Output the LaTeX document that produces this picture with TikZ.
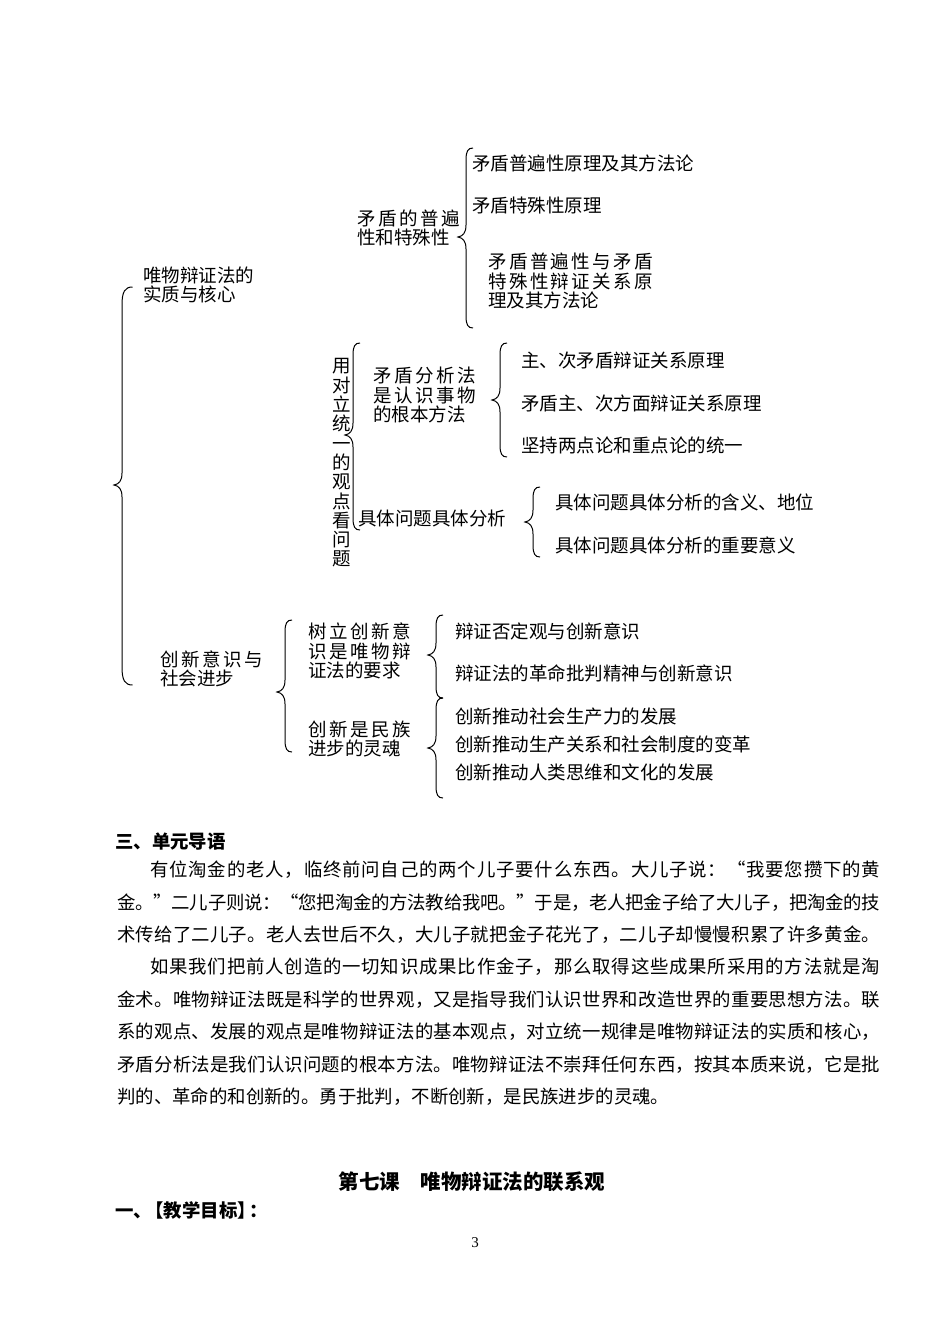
\documentclass[tikz,border=0pt]{standalone}
\usepackage{fontspec}
\setmainfont{Noto Sans CJK SC}
\newfontfamily\numfont{Liberation Serif}
\newcount\cjkc
\newcommand\cjkrange[2]{\cjkc=#1\relax\loop\XeTeXcharclass\cjkc=1\relax\advance\cjkc by 1\relax\ifnum\cjkc<#2\relax\repeat}
\cjkrange{"3000}{"A000}
\cjkrange{"FF00}{"FFF0}
\cjkrange{"2018}{"201E}
\XeTeXinterchartokenstate=1
\newcommand\cjkglue{\hskip0pt plus 3pt minus 1pt\relax}
\XeTeXinterchartoks 1 1 = {\cjkglue}
\newcommand\wbrace[5][1]{%
 \draw[brc] ({#2+7*#1},#3) .. controls ({#2+2*#1},#3) and (#2,{#3+3*#1}) .. (#2,{#3+12*#1})
 -- (#2,{#4-12}) .. controls (#2,{#4-4}) and ({#2-3},{#4-1}) .. ({#2-8},#4)
 .. controls ({#2-3},{#4+1}) and (#2,{#4+4}) .. (#2,{#4+12})
 -- (#2,{#5-12*#1}) .. controls (#2,{#5-3*#1}) and ({#2+2*#1},#5) .. ({#2+7*#1},#5);}
\newcommand\spc[2]{\makebox[#1pt][s]{#2}}
\tikzset{
 brc/.style={line width=1pt, black},
 lbl/.style={anchor=west, inner sep=0pt, align=left, font=\fontsize{18.5}{19.5}\selectfont},
 body/.style={anchor=west, inner sep=0pt, font=\fontsize{18.4}{20}\selectfont},
}
\begin{document}
\begin{tikzpicture}[x=1pt,y=-1pt]
\fill[white] (0,0) rectangle (950,1342);
\useasboundingbox (0,0) rectangle (950,1342);
% top group
\node[lbl] (core) at (143,285) {唯物辩证法的\\实质与核心};
\wbrace[1.5]{122}{287}{485}{685}
\node[lbl] (univ) at (357,228) {\spc{103}{矛盾的普遍}\\性和特殊性};
\wbrace{466}{148}{237}{328}
\node[lbl] (u1) at (472,163) {矛盾普遍性原理及其方法论};
\node[lbl] (u2) at (472,206) {矛盾特殊性原理};
\node[lbl] (u3) at (488,281) {\spc{165}{矛盾普遍性与矛盾}\\\spc{165}{特殊性辩证关系原}\\理及其方法论};
% middle group
\node[anchor=center, inner sep=0pt, align=center, font=\fontsize{18.5}{19.3}\selectfont] (vt) at (342,463) {用\\对\\立\\统\\一\\的\\观\\点\\看\\问\\题};
\wbrace{353}{343}{435}{530}
\node[lbl] (ana) at (373,395) {\spc{103}{矛盾分析法}\\\spc{103}{是认识事物}\\的根本方法};
\wbrace{500}{343}{400}{457}
\node[lbl] (a1) at (521,360) {主、次矛盾辩证关系原理};
\node[lbl] (a2) at (521,403) {矛盾主、次方面辩证关系原理};
\node[lbl] (a3) at (521,445) {坚持两点论和重点论的统一};
\node[lbl] (conc) at (358,518) {具体问题具体分析};
\wbrace{533}{487}{522}{557}
\node[lbl] (c1) at (555,502) {具体问题具体分析的含义、地位};
\node[lbl] (c2) at (555,545) {具体问题具体分析的重要意义};
% bottom group
\node[lbl] (inno) at (160,669) {\spc{103}{创新意识与}\\社会进步};
\wbrace{285}{620}{692}{752}
\node[lbl] (i1) at (308,651) {\spc{103}{树立创新意}\\\spc{103}{识是唯物辩}\\证法的要求};
\node[lbl] (i2) at (308,739) {\spc{103}{创新是民族}\\进步的灵魂};
\wbrace{436}{615}{655}{698}
\wbrace{436}{698}{748}{798}
\node[lbl] (r1) at (455,631) {辩证否定观与创新意识};
\node[lbl] (r2) at (455,673) {辩证法的革命批判精神与创新意识};
\node[lbl] (r3) at (455,716) {创新推动社会生产力的发展};
\node[lbl] (r4) at (455,744) {创新推动生产关系和社会制度的变革};
\node[lbl] (r5) at (455,772) {创新推动人类思维和文化的发展};
% body text
\node[body] (h3) at (115,842) {\bfseries 三、单元导语};
\node[body] (p1) at (150,870) {\spc{730}{有位淘金的老人，临终前问自己的两个儿子要什么东西。大儿子说：“我要您攒下的黄}};
\node[body] (p2) at (117,902.5) {\spc{763}{金。”二儿子则说：“您把淘金的方法教给我吧。”于是，老人把金子给了大儿子，把淘金的技}};
\node[body] (p3) at (117,935) {\spc{763}{术传给了二儿子。老人去世后不久，大儿子就把金子花光了，二儿子却慢慢积累了许多黄金。}};
\node[body] (p4) at (150,967) {\spc{730}{如果我们把前人创造的一切知识成果比作金子，那么取得这些成果所采用的方法就是淘}};
\node[body] (p5) at (117,1000) {\spc{763}{金术。唯物辩证法既是科学的世界观，又是指导我们认识世界和改造世界的重要思想方法。联}};
\node[body] (p6) at (117,1032) {\spc{763}{系的观点、发展的观点是唯物辩证法的基本观点，对立统一规律是唯物辩证法的实质和核心，}};
\node[body] (p7) at (117,1064.5) {\spc{763}{矛盾分析法是我们认识问题的根本方法。唯物辩证法不崇拜任何东西，按其本质来说，它是批}};
\node[body] (p8) at (117,1097) {判的、革命的和创新的。勇于批判，不断创新，是民族进步的灵魂。};
\node[anchor=center, inner sep=0pt, font=\bfseries\fontsize{20.5}{22}\selectfont] (title) at (472,1182) {第七课\hspace{1em}唯物辩证法的联系观};
\node[body] (obj) at (115,1210) {\bfseries 一、\hspace{-0.35em}【教学目标】\hspace{-0.35em}：};
\node[anchor=center, inner sep=0pt] (pg) at (475,1243) {\numfont\fontsize{15}{15}\selectfont 3};
\end{tikzpicture}
\end{document}
